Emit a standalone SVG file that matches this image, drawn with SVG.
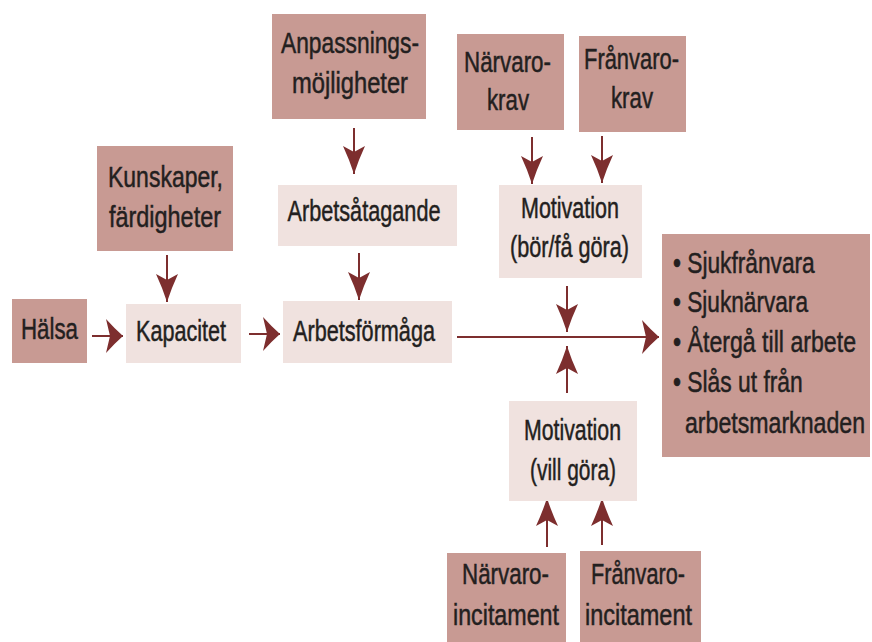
<svg xmlns="http://www.w3.org/2000/svg" width="872" height="642" viewBox="0 0 872 642">
<style>
.dark{fill:#C89A93;}
.light{fill:#F0E2DF;}
text{font-family:"Liberation Sans",Arial,sans-serif;font-size:30px;fill:#231F20;stroke:#231F20;stroke-width:0.5px;}
.c{text-anchor:middle;}
.edge{stroke:#7D2E2E;stroke-width:2;fill:none;}
.v{marker-end:url(#ahv);}
.h{marker-end:url(#ahh);}
</style>
<defs>
<marker id="ahv" markerUnits="userSpaceOnUse" orient="auto" refX="0" refY="0" overflow="visible">
<path d="M0,0 Q-14,-4.5 -28,-11 L-22,0 L-28,11 Q-14,4.5 0,0 Z" fill="#7D2E2E"/>
</marker>
<marker id="ahh" markerUnits="userSpaceOnUse" orient="auto" refX="0" refY="0" overflow="visible">
<path d="M0,0 Q-8,-7 -17,-17 L-13,0 L-17,17 Q-8,7 0,0 Z" fill="#7D2E2E"/>
</marker>
</defs>
<g id="connectors">
<path class="edge h" d="M92,336 H123"/>
<path class="edge h" d="M249,334 H280"/>
<path class="edge v" d="M167,255 V302"/>
<path class="edge v" d="M354,128 V174"/>
<path class="edge v" d="M359,253 V300"/>
<path class="edge v" d="M532,137 V184"/>
<path class="edge v" d="M602,136 V183"/>
<path class="edge v" d="M567,286 V332"/>
<path class="edge h" d="M457,337 H659"/>
<path class="edge v" d="M567,393 V346"/>
<path class="edge v" d="M547,547 V498"/>
<path class="edge v" d="M602,545 V498"/>
</g>
<g id="anpassning">
<rect class="dark" x="272" y="14" width="154" height="105"/>
<text class="c" x="350" y="53" textLength="138" lengthAdjust="spacingAndGlyphs">Anpassnings-</text>
<text class="c" x="350" y="93" textLength="116" lengthAdjust="spacingAndGlyphs">möjligheter</text>
</g>
<g id="kunskaper">
<rect class="dark" x="97" y="146" width="136" height="105"/>
<text class="c" x="165.5" y="187" textLength="115" lengthAdjust="spacingAndGlyphs">Kunskaper,</text>
<text class="c" x="165" y="227" textLength="112" lengthAdjust="spacingAndGlyphs">färdigheter</text>
</g>
<g id="arbetsatagande">
<rect class="light" x="278" y="185" width="179" height="61"/>
<text class="c" x="364" y="221" textLength="153" lengthAdjust="spacingAndGlyphs">Arbetsåtagande</text>
</g>
<g id="halsa">
<rect class="dark" x="12" y="299" width="75" height="64"/>
<text class="c" x="49.5" y="339" textLength="57" lengthAdjust="spacingAndGlyphs">Hälsa</text>
</g>
<g id="kapacitet">
<rect class="light" x="126" y="304" width="115" height="59"/>
<text class="c" x="181" y="341" textLength="90" lengthAdjust="spacingAndGlyphs">Kapacitet</text>
</g>
<g id="arbetsformaga">
<rect class="light" x="283" y="301" width="169" height="62"/>
<text class="c" x="364" y="341" textLength="142" lengthAdjust="spacingAndGlyphs">Arbetsförmåga</text>
</g>
<g id="narvarokrav">
<rect class="dark" x="457" y="34" width="107" height="96"/>
<text class="c" x="507.5" y="72" textLength="87" lengthAdjust="spacingAndGlyphs">Närvaro-</text>
<text class="c" x="508" y="110" textLength="42" lengthAdjust="spacingAndGlyphs">krav</text>
</g>
<g id="franvarokrav">
<rect class="dark" x="579" y="36" width="107" height="96"/>
<text class="c" x="631.5" y="69" textLength="95" lengthAdjust="spacingAndGlyphs">Frånvaro-</text>
<text class="c" x="632" y="108" textLength="42" lengthAdjust="spacingAndGlyphs">krav</text>
</g>
<g id="motivation-bor">
<rect class="light" x="499" y="185" width="143" height="93"/>
<text class="c" x="570" y="218" textLength="98" lengthAdjust="spacingAndGlyphs">Motivation</text>
<text class="c" x="569.5" y="257" textLength="119" lengthAdjust="spacingAndGlyphs">(bör/få göra)</text>
</g>
<g id="utfall">
<rect class="dark" x="662" y="234" width="208" height="223"/>
<g transform="translate(673,273) scale(0.75,1)"><text x="0" y="0" textLength="189" lengthAdjust="spacingAndGlyphs">• Sjukfrånvara</text></g>
<g transform="translate(673,312) scale(0.75,1)"><text x="0" y="0" textLength="180" lengthAdjust="spacingAndGlyphs">• Sjuknärvara</text></g>
<g transform="translate(673,352) scale(0.75,1)"><text x="0" y="0" textLength="244" lengthAdjust="spacingAndGlyphs">• Återgå till arbete</text></g>
<g transform="translate(673,392) scale(0.75,1)"><text x="0" y="0" textLength="173" lengthAdjust="spacingAndGlyphs">• Slås ut från</text></g>
<g transform="translate(685,433) scale(0.75,1)"><text x="0" y="0" textLength="240" lengthAdjust="spacingAndGlyphs">arbetsmarknaden</text></g>
</g>
<g id="motivation-vill">
<rect class="light" x="509" y="401" width="128" height="100"/>
<text class="c" x="572.5" y="440" textLength="97" lengthAdjust="spacingAndGlyphs">Motivation</text>
<text class="c" x="573" y="480" textLength="86" lengthAdjust="spacingAndGlyphs">(vill göra)</text>
</g>
<g id="narvaroincitament">
<rect class="dark" x="447" y="553" width="119" height="89"/>
<text class="c" x="505.5" y="584" textLength="87" lengthAdjust="spacingAndGlyphs">Närvaro-</text>
<text class="c" x="506" y="625" textLength="106" lengthAdjust="spacingAndGlyphs">incitament</text>
</g>
<g id="franvaroincitament">
<rect class="dark" x="580" y="551" width="121" height="91"/>
<text class="c" x="638" y="584" textLength="94" lengthAdjust="spacingAndGlyphs">Frånvaro-</text>
<text class="c" x="638.5" y="625" textLength="107" lengthAdjust="spacingAndGlyphs">incitament</text>
</g>
</svg>
